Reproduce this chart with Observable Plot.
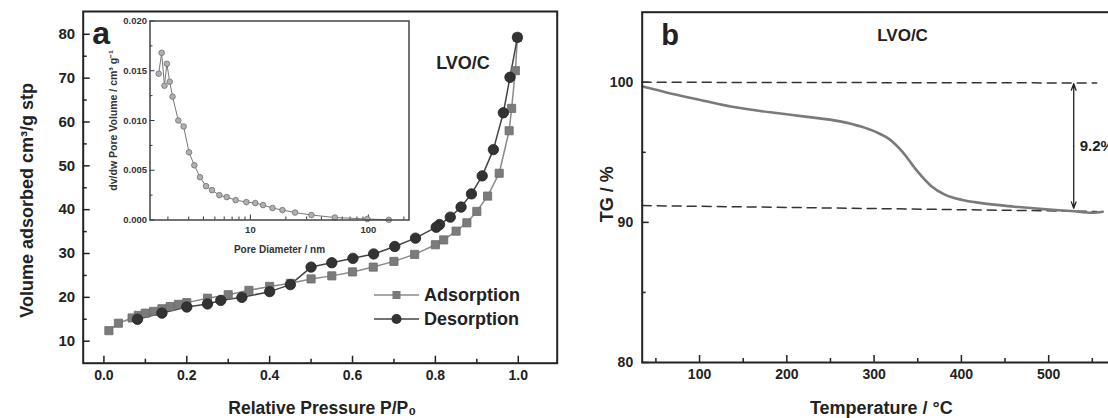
<!DOCTYPE html>
<html><head><meta charset="utf-8">
<script src="https://cdn.jsdelivr.net/npm/d3@7"></script>
<script src="https://cdn.jsdelivr.net/npm/@observablehq/plot@0.6"></script>
<style>
html,body{margin:0;padding:0;background:#fff;overflow:hidden;}
#wrap{position:relative;width:1108px;height:418px;overflow:hidden;font-family:"Liberation Sans",Arial,sans-serif;}
#wrap svg.p{position:absolute;max-width:none;}
.legend{position:absolute;left:374px;top:283px;font-weight:bold;font-size:18px;color:#222;line-height:24px;}
.legend .row{display:flex;align-items:center;height:24px;}
.legend svg{margin-right:5px;}
</style></head>
<body><div id="wrap"></div>
<script>
// ---------- Panel a: N2 isotherm ----------
const adsP = [0.012,0.035,0.068,0.083,0.10,0.12,0.14,0.16,0.18,0.20,0.25,0.30,0.35,0.40,0.45,0.50,0.55,0.60,0.65,0.70,0.75,0.80,0.82,0.85,0.876,0.90,0.926,0.954,0.978,0.984,0.993,0.998];
const adsV = [12.4,14.1,15.3,15.9,16.4,16.8,17.4,17.9,18.4,18.8,19.8,20.6,21.6,22.5,23.2,24.2,24.9,25.8,26.9,28.2,29.8,32.0,33.1,35.1,37.0,39.6,43.1,48.3,58.0,63.1,71.7,79.3];
const desP = [0.998,0.980,0.964,0.940,0.913,0.887,0.862,0.836,0.81,0.802,0.752,0.702,0.651,0.601,0.55,0.50,0.45,0.40,0.333,0.282,0.25,0.20,0.14,0.081];
const desV = [79.3,70.2,62.1,53.7,47.7,43.6,40.6,38.3,36.6,36.0,33.5,31.6,29.9,28.9,27.9,26.9,22.9,21.3,20.0,19.3,18.5,17.8,16.4,15.0];
const xMajorA = [0,0.2,0.4,0.6,0.8,1.0];
const xMinorA = [0.1,0.3,0.5,0.7,0.9];
const yMajorA = [10,20,30,40,50,60,70,80];
const yMinorA = [15,25,35,45,55,65,75];

// ---------- Inset: pore size distribution ----------
const poreD = [1.67,1.77,1.87,1.96,2.07,2.19,2.45,2.72,3.02,3.35,3.74,4.21,4.73,5.46,6.30,7.50,9.25,11.0,12.8,15.4,18.7,23.9,32.9,51.9,98,149];
const poreV = [0.0147,0.0168,0.0135,0.0157,0.0139,0.0124,0.0100,0.0094,0.0068,0.0055,0.0043,0.0034,0.0030,0.0025,0.0023,0.0020,0.0018,0.0017,0.0015,0.0012,0.0010,0.00075,0.0005,0.00025,0.0001,0.00002];
const xMajorI = [10,100];
const xMinorI = [2,3,4,5,6,7,8,9,20,30,40,50,60,70,80,90,200];
const yMajorI = [0,0.005,0.010,0.015,0.020];
const yMinorI = [0.0025,0.0075,0.0125,0.0175];

// ---------- Panel b: TG curve ----------
const temp = [34.9,60.9,101,141,181,221,261,285,301,317,333,349,365,381,401,421,461,497,526,550,562];
const tg   = [99.69,99.29,98.74,98.21,97.86,97.55,97.21,96.84,96.48,95.96,95.0,93.69,92.62,91.98,91.6,91.39,91.12,90.93,90.81,90.69,90.76];
const dashT = [34.3,555];
const dashUpper = [100,99.95];
const dashLower = [91.2,90.78];
const arrowT = 528.7;
const arrowTop = 99.9, arrowBottom = 91.0;
const lossLabel = "9.2%";
const xMajorB = [100,200,300,400,500];
const xMinorB = [50,150,250,350,450,550];
const yMajorB = [80,90,100];
const yMinorB = [85,95];

const FONT = "'Liberation Sans', Arial, Helvetica, sans-serif";
const INK = "#222";
const wrap = document.getElementById("wrap");
function place(svg, left, top){ svg.classList.add("p"); svg.style.left = left+"px"; svg.style.top = top+"px"; wrap.append(svg); }
const blank = () => "";

const ads = adsP.map((p,i)=>({p, v: adsV[i]}));
const des = desP.map((p,i)=>({p, v: desV[i]}));

const plotA = Plot.plot({
  width: 560, height: 418,
  marginLeft: 82.7, marginRight: 3.3, marginTop: 11, marginBottom: 55.3,
  style: {fontFamily: FONT, fontWeight: "bold", color: INK, background: "transparent", overflow: "visible"},
  x: {domain: [-0.05, 1.094]},
  y: {domain: [4.98, 85.2]},
  marks: [
    Plot.axisX(xMajorA, {tickSize: -7, tickPadding: 14, tickFormat: d3.format(".1f"), fontSize: 14, label: null, stroke: INK, strokeWidth: 1.5}),
    Plot.axisX(xMinorA, {tickSize: -4, tickFormat: blank, label: null, stroke: INK, strokeWidth: 1.5}),
    Plot.axisY(yMajorA, {tickSize: -7, tickPadding: 15, fontSize: 15, label: null, stroke: INK, strokeWidth: 1.5}),
    Plot.axisY(yMinorA, {tickSize: -4, tickFormat: blank, label: null, stroke: INK, strokeWidth: 1.5}),
    Plot.line(ads, {x: "p", y: "v", stroke: "#8a8a8a", strokeWidth: 1.5}),
    Plot.line(des, {x: "p", y: "v", stroke: "#444", strokeWidth: 1.5}),
    Plot.dot(ads, {x: "p", y: "v", symbol: "square", r: 4.6, fill: "#7b7b7b", stroke: "#6b6b6b", strokeWidth: 0.8}),
    Plot.dot(des, {x: "p", y: "v", symbol: "circle", r: 5.2, fill: "#333", stroke: "#222", strokeWidth: 0.8}),
    Plot.frame({stroke: INK, strokeWidth: 2}),
    Plot.text(["a"], {frameAnchor: "top-left", dx: 9, dy: 22, lineAnchor: "middle", fontSize: 32, fontWeight: "bold", fill: INK}),
    Plot.text(["LVO/C"], {frameAnchor: "top-left", dx: 353, dy: 52, lineAnchor: "middle", textAnchor: "start", fontSize: 18, fontWeight: "bold", fill: INK}),
    Plot.text(["Relative Pressure P/P\u2080"], {frameAnchor: "bottom", dx: 2, dy: 45.5, lineAnchor: "middle", textAnchor: "middle", fontSize: 17.5, fontWeight: "bold", fill: INK}),
    Plot.text(["Volume adsorbed cm\u00b3/g stp"], {frameAnchor: "left", dx: -55.7, dy: 13, rotate: -90, textAnchor: "middle", lineAnchor: "middle", fontSize: 18, fontWeight: "bold", fill: INK})
  ]
});
place(plotA, 0, 0);

const pore = poreD.map((d,i)=>({d, v: poreV[i]}));
const plotI = Plot.plot({
  width: 330, height: 250,
  marginLeft: 59.5, marginRight: 11.5, marginTop: 10.5, marginBottom: 40.5,
  style: {fontFamily: FONT, fontWeight: "bold", color: "#333", background: "transparent", overflow: "visible"},
  x: {type: "log", domain: [1.41, 221]},
  y: {domain: [0, 0.02]},
  marks: [
    Plot.axisX(xMajorI, {tickSize: -5, tickPadding: 11, tickFormat: d3.format("d"), fontSize: 9.5, label: null, stroke: "#333"}),
    Plot.axisX(xMinorI, {tickSize: -3, tickFormat: blank, label: null, stroke: "#333"}),
    Plot.axisY(yMajorI, {tickSize: -5, tickPadding: 8, tickFormat: d3.format(".3f"), fontSize: 9.5, label: null, stroke: "#333"}),
    Plot.axisY(yMinorI, {tickSize: -3, tickFormat: blank, label: null, stroke: "#333"}),
    Plot.line(pore, {x: "d", y: "v", stroke: "#777", strokeWidth: 1}),
    Plot.dot(pore, {x: "d", y: "v", r: 2.8, fill: "#b0b0b0", stroke: "#6e6e6e", strokeWidth: 0.8}),
    Plot.frame({stroke: "#444", strokeWidth: 1.5}),
    Plot.text(["Pore Diameter / nm"], {frameAnchor: "bottom", dy: 29.5, lineAnchor: "middle", textAnchor: "middle", fontSize: 10, fontWeight: "bold", fill: "#333"}),
    Plot.text(["dv/dw Pore Volume / cm\u00b3 g\u207b\u00b9"], {frameAnchor: "left", dx: -36, rotate: -90, textAnchor: "middle", lineAnchor: "middle", fontSize: 10.5, fontWeight: "bold", fill: "#333"})
  ]
});
place(plotI, 90, 10);

const tgData = temp.map((t,i)=>({t, g: tg[i]}));
const upper = dashT.map((t,i)=>({t, g: dashUpper[i]}));
const lower = dashT.map((t,i)=>({t, g: dashLower[i]}));
const mid = (arrowTop + arrowBottom) / 2;
const plotB = Plot.plot({
  width: 560, height: 418,
  marginLeft: 81.7, marginRight: 0, marginTop: 11.7, marginBottom: 56,
  style: {fontFamily: FONT, fontWeight: "bold", color: INK, background: "transparent", overflow: "visible"},
  x: {domain: [34.3, 582.3]},
  y: {domain: [80, 105]},
  marks: [
    Plot.axisX(xMajorB, {tickSize: -7, tickPadding: 14, fontSize: 14, label: null, stroke: INK, strokeWidth: 1.5}),
    Plot.axisX(xMinorB, {tickSize: -4, tickFormat: blank, label: null, stroke: INK, strokeWidth: 1.5}),
    Plot.axisY(yMajorB, {tickSize: -7, tickPadding: 16, fontSize: 14, label: null, stroke: INK, strokeWidth: 1.5}),
    Plot.axisY(yMinorB, {tickSize: -4, tickFormat: blank, label: null, stroke: INK, strokeWidth: 1.5}),
    Plot.line(upper, {x: "t", y: "g", stroke: "#333", strokeWidth: 1.5, strokeDasharray: "9,6"}),
    Plot.line(lower, {x: "t", y: "g", stroke: "#333", strokeWidth: 1.5, strokeDasharray: "9,6"}),
    Plot.line(tgData, {x: "t", y: "g", curve: "monotone-x", stroke: "#7a7a7a", strokeWidth: 2.6}),
    Plot.arrow([{}], {x1: arrowT, x2: arrowT, y1: mid, y2: arrowTop, stroke: "#222", strokeWidth: 1.3, headLength: 8, headAngle: 40}),
    Plot.arrow([{}], {x1: arrowT, x2: arrowT, y1: mid, y2: arrowBottom, stroke: "#222", strokeWidth: 1.3, headLength: 8, headAngle: 40}),
    Plot.text([lossLabel], {x: arrowT, y: mid, dx: 6, textAnchor: "start", lineAnchor: "middle", fontSize: 15, fontWeight: "bold", fill: INK}),
    Plot.frame({stroke: INK, strokeWidth: 2}),
    Plot.text(["b"], {frameAnchor: "top-left", dx: 19, dy: 24, lineAnchor: "middle", fontSize: 29, fontWeight: "bold", fill: INK}),
    Plot.text(["LVO/C"], {frameAnchor: "top-left", dx: 235, dy: 23.3, lineAnchor: "middle", textAnchor: "start", fontSize: 17, fontWeight: "bold", fill: INK}),
    Plot.text(["Temperature / \u00b0C"], {frameAnchor: "bottom", dy: 46, lineAnchor: "middle", textAnchor: "middle", fontSize: 18, fontWeight: "bold", fill: INK}),
    Plot.text(["TG / %"], {frameAnchor: "left", dx: -34.7, dy: 7, rotate: -90, textAnchor: "middle", lineAnchor: "middle", fontSize: 18, fontWeight: "bold", fill: INK})
  ]
});
place(plotB, 560, 0);

// legend for panel a
const leg = document.createElement("div");
leg.className = "legend";
leg.innerHTML =
  '<div class="row"><svg width="45" height="14"><line x1="0" y1="7" x2="45" y2="7" stroke="#8a8a8a" stroke-width="1.5"/><rect x="18.5" y="3" width="8" height="8" fill="#7b7b7b"/></svg><span>Adsorption</span></div>' +
  '<div class="row"><svg width="45" height="14"><line x1="0" y1="7" x2="45" y2="7" stroke="#444" stroke-width="1.5"/><circle cx="22.5" cy="7" r="5" fill="#333"/></svg><span>Desorption</span></div>';
wrap.append(leg);
</script></body></html>
